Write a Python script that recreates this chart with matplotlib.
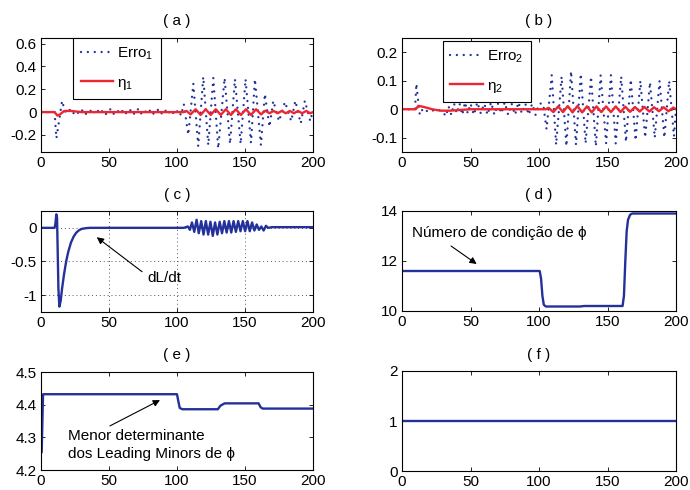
import matplotlib
matplotlib.use("Agg")
import matplotlib.pyplot as plt
from matplotlib.ticker import FuncFormatter

plt.rcParams['font.family'] = ['Liberation Sans', 'DejaVu Sans']
plt.rcParams['font.size'] = 11
plt.rcParams['mathtext.fontset'] = 'custom'
plt.rcParams['mathtext.rm'] = 'Liberation Sans'
plt.rcParams['mathtext.it'] = 'Liberation Sans'
plt.rcParams['axes.unicode_minus'] = False

# ---------------- data ----------------
# (a) tracking error 1 and eta_1 (turning points)
erro1_t = [0, 10, 11.3, 13, 15.5, 17.5, 19,
           21, 23, 26, 28, 31, 33, 36, 38, 41, 43, 46, 48, 51, 53, 56, 58,
           61, 63, 66, 68, 71, 73, 76, 78, 81, 83, 86, 88, 91, 93, 96, 98,
           101, 103, 105, 108.3, 112, 115.6, 119.3, 123, 126.7, 130.3, 135,
           139, 142.6, 146.8, 150.4, 154.4, 157.3, 161.7, 164.6, 168, 170.8,
           175, 179.4, 184, 187, 191, 194, 198, 200]
erro1_v = [0, 0, -0.23, -0.1, 0.10, 0.01, -0.01,
           0.02, -0.02, 0.015, -0.02, 0.025, -0.015, 0.02, -0.02, 0.03, -0.015,
           0.02, -0.02, 0.025, -0.02, 0.02, -0.015,
           0.025, -0.02, 0.02, -0.02, 0.03, -0.02, 0.02, -0.015, 0.025, -0.02,
           0.02, -0.02, 0.025, -0.02, 0.02, -0.025,
           0.02, -0.03, 0.07, -0.2, 0.25, -0.30, 0.31, -0.29, 0.30, -0.32, 0.30,
           -0.28, 0.29, -0.28, 0.29, -0.27, 0.29, -0.29, 0.16, -0.13, 0.10,
           -0.08, 0.09, -0.08, 0.10, -0.10, 0.10, -0.08, 0.02]

eta1_t = [0, 10, 12, 14, 17, 22, 30, 105, 107, 110, 113.7, 117.4, 121.1,
          124.8, 128.5, 132.2, 135.9, 139.6, 143.3, 147, 150.7, 154.4, 158.1,
          161.8, 165, 168, 171, 174, 177, 180, 183, 186, 189, 192, 195, 198, 200]
eta1_v = [0, 0, -0.03, -0.02, 0.01, 0.01, 0, 0, 0.01, -0.02, 0.025, -0.025,
          0.025, -0.025, 0.025, -0.025, 0.025, -0.025, 0.025, -0.025, 0.025,
          -0.025, 0.025, -0.02, 0.012, -0.01, 0.01, -0.01, 0.01, -0.01, 0.01,
          -0.01, 0.01, -0.01, 0.01, -0.01, 0]

# (b) tracking error 2 and eta_2
erro2_t = [0, 9.5, 10.5, 12, 13, 15, 17, 20, 23, 26, 30, 32, 34, 36, 38, 40,
           42, 44, 46, 48, 50, 52.5, 55, 57.5, 60, 62.5, 65, 67.5, 70, 72.5,
           75, 77.5, 80, 82.5, 85, 87.5, 90, 92.5, 95, 97.5, 100, 103, 105.5,
           109.3, 112.5, 116.5, 120, 123.4, 127, 130.5, 134, 138, 141.5, 145,
           149, 152.5, 156, 160, 163.5, 167, 170.5, 174, 177.5, 181, 184.5,
           188, 191.5, 195, 198.5, 200]
erro2_v = [0, 0, 0.09, 0.02, -0.02, 0.0, -0.01, 0.0, -0.005, 0.0, -0.01,
           -0.025, 0.01, -0.02, 0.02, -0.015, 0.02, -0.02, 0.025, -0.015, 0.02,
           -0.02, 0.025, -0.015, 0.02, -0.02, 0.025, -0.02, 0.02, -0.015, 0.025,
           -0.02, 0.02, -0.02, 0.025, -0.015, 0.02, -0.02, 0.02, -0.02, 0.02,
           0.02, -0.07,
           0.12, -0.125, 0.115, -0.13, 0.134, -0.125, 0.125, -0.12, 0.115,
           -0.13, 0.12, -0.12, 0.12, -0.12, 0.115, -0.115, 0.105, -0.11, 0.10,
           -0.10, 0.095, -0.10, 0.10, -0.10, 0.10, -0.095, 0.0]

eta2_t = [0, 10, 12, 16, 22, 28, 35, 50, 105, 107, 110.5, 114, 117.5, 121,
          124.5, 128, 131.5, 135, 138.5, 142, 145.5, 149, 152.5, 156, 159.5,
          163, 166.5, 170, 173.5, 177, 180.5, 184, 187.5, 191, 194.5, 198, 200]
eta2_v = [0, 0, 0.012, 0.008, 0.0, -0.005, -0.005, 0, 0, 0.005, -0.01, 0.01,
          -0.01, 0.011, -0.011, 0.011, -0.011, 0.01, -0.011, 0.01, -0.01,
          0.01, -0.01, 0.01, -0.01, 0.009, -0.009, 0.008, -0.008, 0.008,
          -0.008, 0.007, -0.007, 0.007, -0.007, 0.006, 0]

# (c) dL/dt
dl_t = [0, 10, 10.5, 11.3, 11.8, 12.8, 13.5, 14.5, 15.5, 17, 18.5, 20, 22, 24,
        26, 28, 30, 33, 36, 105, 108, 109.5, 111, 112.7, 114.4, 116, 117.8,
        119.5, 121.2, 122.9, 124.6, 126.3, 128, 129.7, 131.4, 133.1, 134.8,
        136.5, 138.2, 139.9, 141.6, 143.3, 145, 146.7, 148.4, 150.1, 151.8,
        153.5, 155.2, 156.9, 158.6, 160.3, 162, 163.7, 165.4, 167, 170, 200]
dl_v = [0, 0, 0.05, 0.2, 0.15, -0.9, -1.17, -1.08, -0.9, -0.68, -0.5, -0.36,
        -0.22, -0.13, -0.07, -0.035, -0.015, -0.005, 0, 0, 0.02, -0.03, 0.08,
        -0.06, 0.12, -0.08, 0.10, -0.10, 0.10, -0.10, 0.09, -0.12, 0.08, -0.10,
        0.09, -0.08, 0.10, -0.07, 0.10, -0.07, 0.10, -0.06, 0.10, -0.05, 0.10,
        -0.05, 0.10, -0.05, 0.08, -0.04, 0.05, -0.03, 0.02, -0.04, 0.03, 0.0,
        0.01, 0.01]

# (d) condition number of phi
cond_t = [0, 100.5, 101.5, 102.5, 103.5, 105, 130, 133, 161, 162, 163, 164,
          165, 166.5, 168, 200]
cond_v = [11.6, 11.6, 11.3, 10.6, 10.25, 10.18, 10.18, 10.2, 10.2, 10.6,
          12.0, 13.2, 13.65, 13.85, 13.9, 13.9]

# (e) smallest leading-minor determinant of phi
minor_t = [0.5, 1.5, 100, 101, 102, 104, 130, 132, 135, 160, 161.5, 163, 200]
minor_v = [4.255, 4.432, 4.432, 4.41, 4.39, 4.386, 4.386, 4.397, 4.404, 4.404,
           4.392, 4.388, 4.388]

# (f) constant indicator
flag_t = [0, 200]
flag_v = [1, 1]

xticks = [0, 50, 100, 150, 200]
titles = ['( a )', '( b )', '( c )', '( d )', '( e )', '( f )']

BLUE = '#24319b'
RED = '#ef2530'

fig = plt.figure(figsize=(6.9, 4.9), dpi=100)
W, H = 690.0, 490.0

def make_axes(left, top, right, bottom):
    return fig.add_axes([left / W, 1 - bottom / H, (right - left) / W,
                         (bottom - top) / H])

axa = make_axes(41, 38, 313, 152)
axb = make_axes(402, 38, 676, 152)
axc = make_axes(41, 211, 313, 312)
axd = make_axes(402, 211, 676, 311)
axe = make_axes(41, 372, 313, 470)
axf = make_axes(402, 371, 676, 471)

fmt = FuncFormatter(lambda v, p: ('%g' % round(v, 6)))

dot_style = dict(color=BLUE, lw=1.7, linestyle=(0, (0.01, 2.9)),
                 dash_capstyle='round')

# (a)
axa.plot(erro1_t, erro1_v, label='Erro$_1$', **dot_style)
axa.plot(eta1_t, eta1_v, color=RED, lw=1.7, label='η$_1$')
axa.set_ylim(-0.35, 0.65)
axa.set_yticks([-0.2, 0, 0.2, 0.4, 0.6])

# (b)
axb.plot(erro2_t, erro2_v, label='Erro$_2$', **dot_style)
axb.plot(eta2_t, eta2_v, color=RED, lw=1.7, label='η$_2$')
axb.set_ylim(-0.15, 0.25)
axb.set_yticks([-0.1, 0, 0.1, 0.2])

# (c)
axc.plot(dl_t, dl_v, color=BLUE, lw=1.7)
axc.set_ylim(-1.25, 0.25)
axc.set_yticks([-1, -0.5, 0])
axc.grid(True, linestyle=(0, (1, 3)), color='#555555', lw=0.7)
axc.annotate('dL/dt', xy=(41, -0.14), xytext=(78, -0.75),
             va='center', ha='left',
             arrowprops=dict(arrowstyle='-|>', color='black', lw=0.8,
                             mutation_scale=10, shrinkA=2, shrinkB=0,
                             relpos=(0, 0.7)))

# (d)
axd.plot(cond_t, cond_v, color=BLUE, lw=1.7)
axd.set_ylim(10, 14)
axd.set_yticks([10, 12, 14])
axd.text(7, 13.1, 'Número de condição de ϕ', va='center', ha='left')
axd.annotate('', xy=(54.5, 11.88), xytext=(35.8, 12.6),
             arrowprops=dict(arrowstyle='-|>', color='black', lw=0.8,
                             mutation_scale=10, shrinkA=0, shrinkB=0))

# (e)
axe.plot(minor_t, minor_v, color=BLUE, lw=1.7)
axe.set_ylim(4.2, 4.5)
axe.set_yticks([4.2, 4.3, 4.4, 4.5])
axe.text(20, 4.277, 'Menor determinante\ndos Leading Minors de ϕ',
         va='center', ha='left', linespacing=1.35)
axe.annotate('', xy=(87.5, 4.414), xytext=(50.7, 4.335),
             arrowprops=dict(arrowstyle='-|>', color='black', lw=0.8,
                             mutation_scale=10, shrinkA=0, shrinkB=0))

# (f)
axf.plot(flag_t, flag_v, color=BLUE, lw=1.7)
axf.set_ylim(0, 2)
axf.set_yticks([0, 1, 2])

for ax, ttl in zip([axa, axb, axc, axd, axe, axf], titles):
    ax.set_xlim(0, 200)
    ax.set_xticks(xticks)
    ax.xaxis.set_major_formatter(fmt)
    ax.yaxis.set_major_formatter(fmt)
    ax.tick_params(direction='in', length=3, width=0.6, top=True, right=True,
                   labelsize=11, pad=3)
    for s in ax.spines.values():
        s.set_linewidth(0.8)
    ax.set_title(ttl, fontsize=11, pad=9)

leg_kw = dict(loc='upper left', frameon=True, fancybox=False, framealpha=1,
              edgecolor='black', handlelength=2.1, handletextpad=0.3,
              borderpad=0.5, labelspacing=0.9, borderaxespad=0, fontsize=11)
la = axa.legend(bbox_to_anchor=(0.118, 1.0), **leg_kw)
lb = axb.legend(bbox_to_anchor=(0.149, 0.974), **leg_kw)
for lg in (la, lb):
    lg.get_frame().set_linewidth(0.8)

fig.savefig('out.png', dpi=100, facecolor='white')
